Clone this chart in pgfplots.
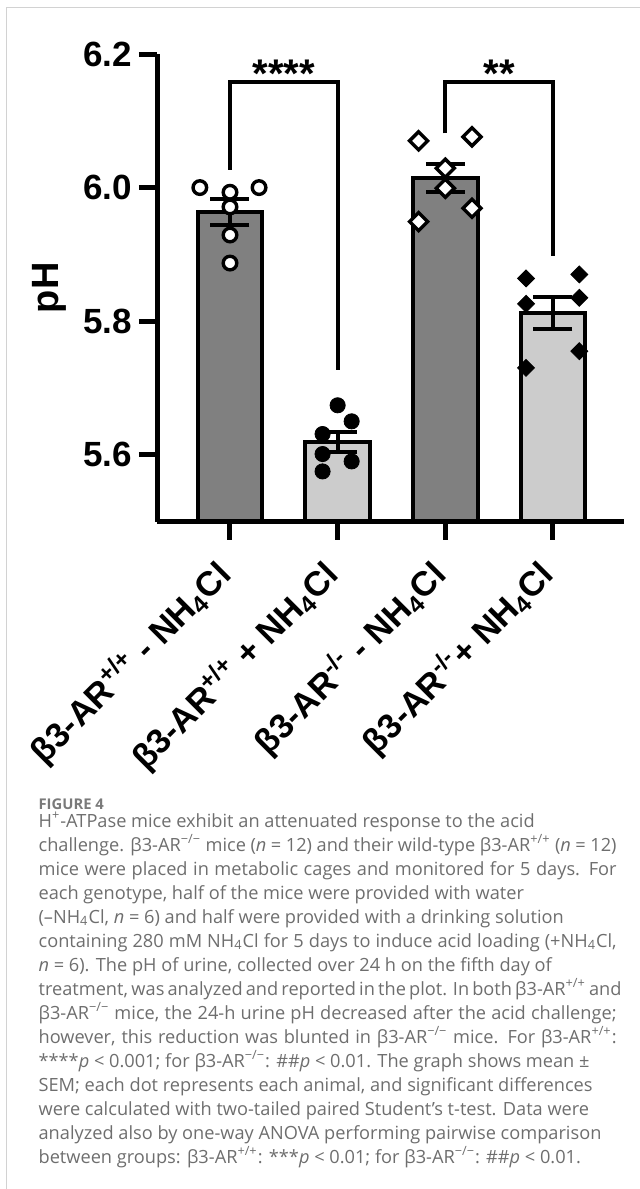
\documentclass[border=0pt]{standalone}
\usepackage{fontspec}
\setmainfont{Liberation Sans}
\newfontfamily\capfont{Open Sans}
\usepackage{pgfplots}
\pgfplotsset{compat=1.18}
\definecolor{bardark}{HTML}{808080}
\definecolor{barlight}{HTML}{CCCCCC}
\definecolor{capgray}{HTML}{6E6E6E}
\definecolor{figgray}{HTML}{7A7A7A}
\definecolor{framegray}{HTML}{D2D2D2}
\newcommand{\cl}[3]{\node[anchor=base west, inner sep=0pt, font=\capfont\fontsize{9.1}{12}\selectfont, text=capgray] at (19.1pt,{-(413.5pt+#1*12pt)}) {\makebox[#2pt][s]{#3}};}
\newcommand{\cn}[2]{\node[anchor=base west, inner sep=0pt, font=\capfont\fontsize{9.1}{12}\selectfont, text=capgray] at (19.1pt,{-(413.5pt+#1*12pt)}) {#2};}
\begin{document}
\begin{tikzpicture}
\path[use as bounding box] (0,0) rectangle (320pt,-594.5pt);
\draw[framegray, line width=0.6pt] (3.3pt,-594.5pt) -- (3.3pt,-3.6pt) -- (320pt,-3.6pt);
\begin{axis}[
  at={(78.5pt,-260.75pt)}, anchor=south west,
  scale only axis, width=233.5pt, height=233.75pt,
  xmin=-0.678, xmax=3.66, ymin=5.5, ymax=6.2,
  axis lines=left, axis line style={-, line width=2.5pt, black},
  axis on top, clip mode=individual,
  tick align=outside, major tick length=9pt,
  tick style={line width=2.5pt, black},
  minor tick num=0,
  xtick={0,1,2,3}, ytick={5.6,5.8,6.0,6.2},
  xticklabels={{β3-AR\textsuperscript{+/+} - NH\textsubscript{4}Cl},
               {β3-AR\textsuperscript{+/+} + NH\textsubscript{4}Cl},
               {β3-AR\textsuperscript{-/-} - NH\textsubscript{4}Cl},
               {β3-AR\textsuperscript{-/-}+ NH\textsubscript{4}Cl}},
  xticklabel style={rotate=45, anchor=east, xshift=-8.8pt, yshift=-8.6pt, font=\bfseries\fontsize{17.2}{20}\selectfont},
  yticklabel style={font=\bfseries\fontsize{17.5}{20}\selectfont},
  /pgf/number format/.cd, fixed, fixed zerofill, precision=1, assume math mode=true,
  /pgfplots/.cd,
  ylabel={pH},
  ylabel style={font=\bfseries\fontsize{19}{22}\selectfont, at={(axis description cs:-0.230,0.5)}, anchor=center},
]
% bars
\addplot[ybar, bar width=0.6, bar shift=0pt, fill=bardark, draw=black, line width=2pt]
  coordinates {(0,5.963) (2,6.014)};
\addplot[ybar, bar width=0.6, bar shift=0pt, fill=barlight, draw=black, line width=2pt]
  coordinates {(1,5.619) (3,5.812)};
% mean +- SEM
\addplot[draw=none, mark=none, forget plot,
  error bars/.cd, y dir=both, y explicit,
  error bar style={draw=black, line width=2pt},
  error mark=-,
  error mark options={draw=black, line width=2pt, mark size=9.75pt, rotate=90}]
  coordinates {(0,5.963) +- (0,0.0195) (1,5.619) +- (0,0.0155) (2,6.014) +- (0,0.021) (3,5.812) +- (0,0.024)};
% individual animals
\addplot[only marks, mark=*, mark size=3.4pt, mark options={draw=black, fill=white, line width=1.7pt}]
  coordinates {(-0.28,6.000) (0,5.993) (0.27,6.000) (0,5.971) (0,5.929) (0,5.887)};
\addplot[only marks, mark=*, mark size=3.8pt, mark options={draw=black, fill=black, line width=0.4pt}]
  coordinates {(1,5.674) (1.13,5.650) (0.86,5.631) (0.86,5.601) (1.13,5.590) (0.86,5.575)};
\addplot[only marks, mark=square*, mark size=3.2pt, mark options={rotate=45, draw=black, fill=white, line width=1.7pt}]
  coordinates {(1.752,6.070) (2.248,6.076) (2,6.029) (2,5.999) (2.248,5.969) (1.752,5.949)};
\addplot[only marks, mark=square*, mark size=3.0pt, mark options={rotate=45, draw=black, fill=black, line width=0.4pt}]
  coordinates {(2.75,5.864) (3.245,5.870) (2.75,5.826) (3.245,5.835) (3.245,5.755) (2.75,5.730)};
% significance brackets
\draw[line width=2pt] (axis cs:0,6.027) -- (axis cs:0,6.158) -- (axis cs:1,6.158) -- (axis cs:1,5.727);
\draw[line width=2pt] (axis cs:2,6.081) -- (axis cs:2,6.158) -- (axis cs:3,6.158) -- (axis cs:3,5.898);
\node[anchor=base, font=\bfseries\fontsize{20}{24}\selectfont] at (axis cs:0.5,6.150) {****};
\node[anchor=base, font=\bfseries\fontsize{20}{24}\selectfont] at (axis cs:2.5,6.150) {**};
\end{axis}
% caption
\node[anchor=base west, inner sep=0pt, font=\capfont\bfseries\fontsize{7.4}{9}\selectfont, text=figgray] at (19.1pt,-404.6pt) {FIGURE 4};
\cn{0}{H\textsuperscript{+}-ATPase mice exhibit an attenuated response to the acid}
\cl{1}{289}{challenge. β3-AR\textsuperscript{−/−} mice (\textit{n} = 12) and their wild-type β3-AR\textsuperscript{+/+} (\textit{n} = 12)}
\cl{2}{289}{mice were placed in metabolic cages and monitored for 5 days. For}
\cn{3}{each genotype, half of the mice were provided with water}
\cn{4}{(–NH\textsubscript{4}Cl, \textit{n} = 6) and half were provided with a drinking solution}
\cl{5}{289}{containing 280 mM NH\textsubscript{4}Cl for 5 days to induce acid loading (+NH\textsubscript{4}Cl,}
\cn{6}{\textit{n} = 6). The pH of urine, collected over 24 h on the fifth day of}
\cl{7}{289}{treatment, was analyzed and reported in the plot. In both β3-AR\textsuperscript{+/+} and}
\cl{8}{289}{β3-AR\textsuperscript{−/−} mice, the 24-h urine pH decreased after the acid challenge;}
\cl{9}{289}{however, this reduction was blunted in β3-AR\textsuperscript{−/−} mice. For β3-AR\textsuperscript{+/+}:}
\cn{10}{****\textit{p} < 0.001; for β3-AR\textsuperscript{−/−}: \#\#\textit{p} < 0.01. The graph shows mean ±}
\cn{11}{SEM; each dot represents each animal, and significant differences}
\cn{12}{were calculated with two-tailed paired Student’s t-test. Data were}
\cn{13}{analyzed also by one-way ANOVA performing pairwise comparison}
\cn{14}{between groups: β3-AR\textsuperscript{+/+}: ***\textit{p} < 0.01; for β3-AR\textsuperscript{−/−}: \#\#\textit{p} < 0.01.}
\end{tikzpicture}
\end{document}
